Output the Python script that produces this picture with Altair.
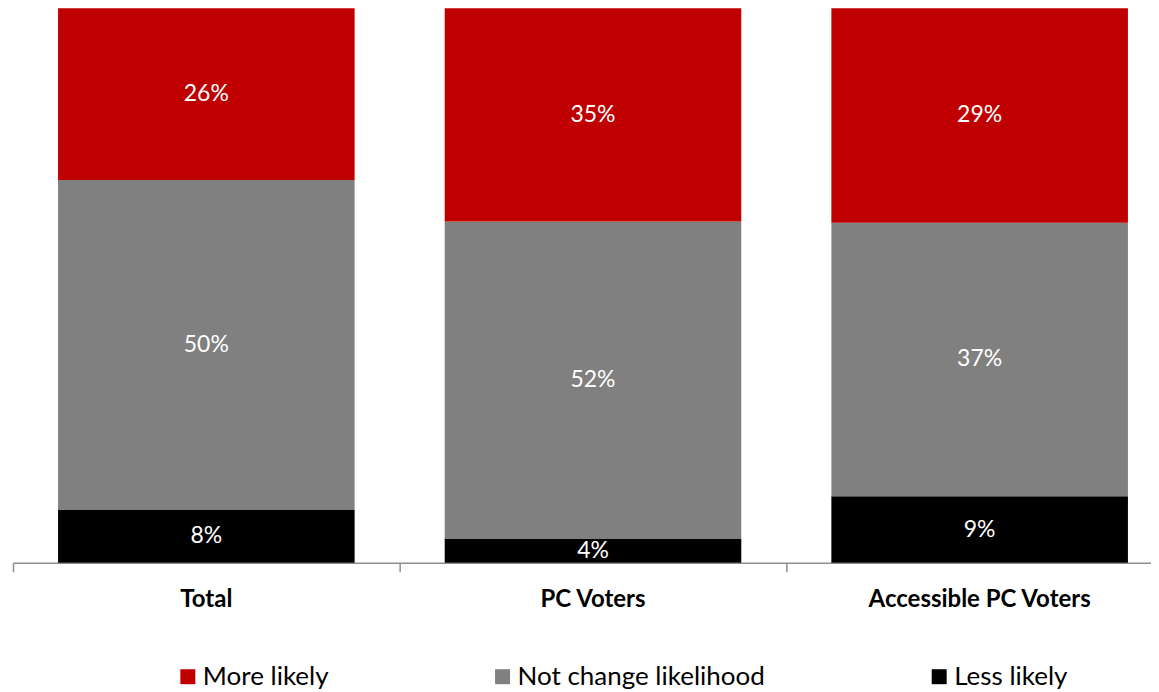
import altair as alt
import pandas as pd

groups = ["Total", "PC Voters", "Accessible PC Voters"]
responses = ["More likely", "Not change likelihood", "Less likely"]
more_likely = [26, 35, 29]
not_change = [50, 52, 37]
less_likely = [8, 4, 9]
colors = ["#C00000", "#808080", "#000000"]

series = {"Less likely": less_likely, "Not change likelihood": not_change, "More likely": more_likely}
stack_order = ["Less likely", "Not change likelihood", "More likely"]

rows = []
for gi, g in enumerate(groups):
    for oi, r in enumerate(stack_order):
        v = series[r][gi]
        rows.append({"group": g, "gi": gi, "response": r, "value": v, "order": oi, "label": f"{v}%"})
df = pd.DataFrame(rows)
cats = pd.DataFrame({"group": groups, "gi": list(range(len(groups)))})

BAND_PX = 387
PLOT_W = 1139
PLOT_H = 555
BAR_PAD = 0.1165
FONT = "Lato"
AXIS_GREY = "#8E8E8E"

x_scale = alt.Scale(domain=[0, PLOT_W / BAND_PX], nice=False, zero=False)
y_scale = alt.Scale(domain=[0, 1], nice=False)

base = alt.Chart(df).transform_stack(
    stack="value", groupby=["group"], as_=["y0", "y1"], offset="normalize",
    sort=[alt.SortField("order", order="ascending")]
).transform_calculate(
    xa=f"datum.gi + {BAR_PAD}",
    xb=f"datum.gi + 1 - {BAR_PAD}",
    xm="datum.gi + 0.5",
    ym="(datum.y0 + datum.y1) / 2",
)

bars = base.mark_bar().encode(
    x=alt.X("xa:Q", scale=x_scale,
            axis=alt.Axis(values=[0, 1, 2, 3], labels=False, title=None, grid=False,
                          domainColor=AXIS_GREY, domainWidth=1.5, tickColor=AXIS_GREY,
                          tickWidth=1.5, tickSize=9)),
    x2="xb:Q",
    y=alt.Y("y0:Q", scale=y_scale, axis=None),
    y2="y1:Q",
    color=alt.Color("response:N",
                    scale=alt.Scale(domain=responses, range=colors),
                    legend=alt.Legend(title=None, orient="none", legendX=162, legendY=656,
                                      direction="horizontal", symbolType="square",
                                      symbolSize=225, symbolStrokeWidth=0, padding=0,
                                      labelFont=FONT, labelFontSize=26, labelColor="#000000",
                                      columnPadding=161, labelOffset=2, labelLimit=400)),
)

values = base.mark_text(color="white", font=FONT, fontSize=23).encode(
    x=alt.X("xm:Q", scale=x_scale),
    y=alt.Y("ym:Q", scale=y_scale),
    text="label:N",
)

cat_labels = alt.Chart(cats).transform_calculate(xm="datum.gi + 0.5").mark_text(
    font=FONT, fontSize=24, fontWeight="bold", color="#000000", baseline="alphabetic"
).encode(
    x=alt.X("xm:Q", scale=x_scale),
    y=alt.value(PLOT_H + 44),
    text="group:N",
)

chart = alt.layer(bars, values, cat_labels).properties(
    width=PLOT_W, height=PLOT_H,
    padding={"left": 4, "top": 0, "right": 0, "bottom": 0},
).configure_view(stroke=None)

chart.save("out.html", embed_options={"renderer": "svg", "actions": False})
